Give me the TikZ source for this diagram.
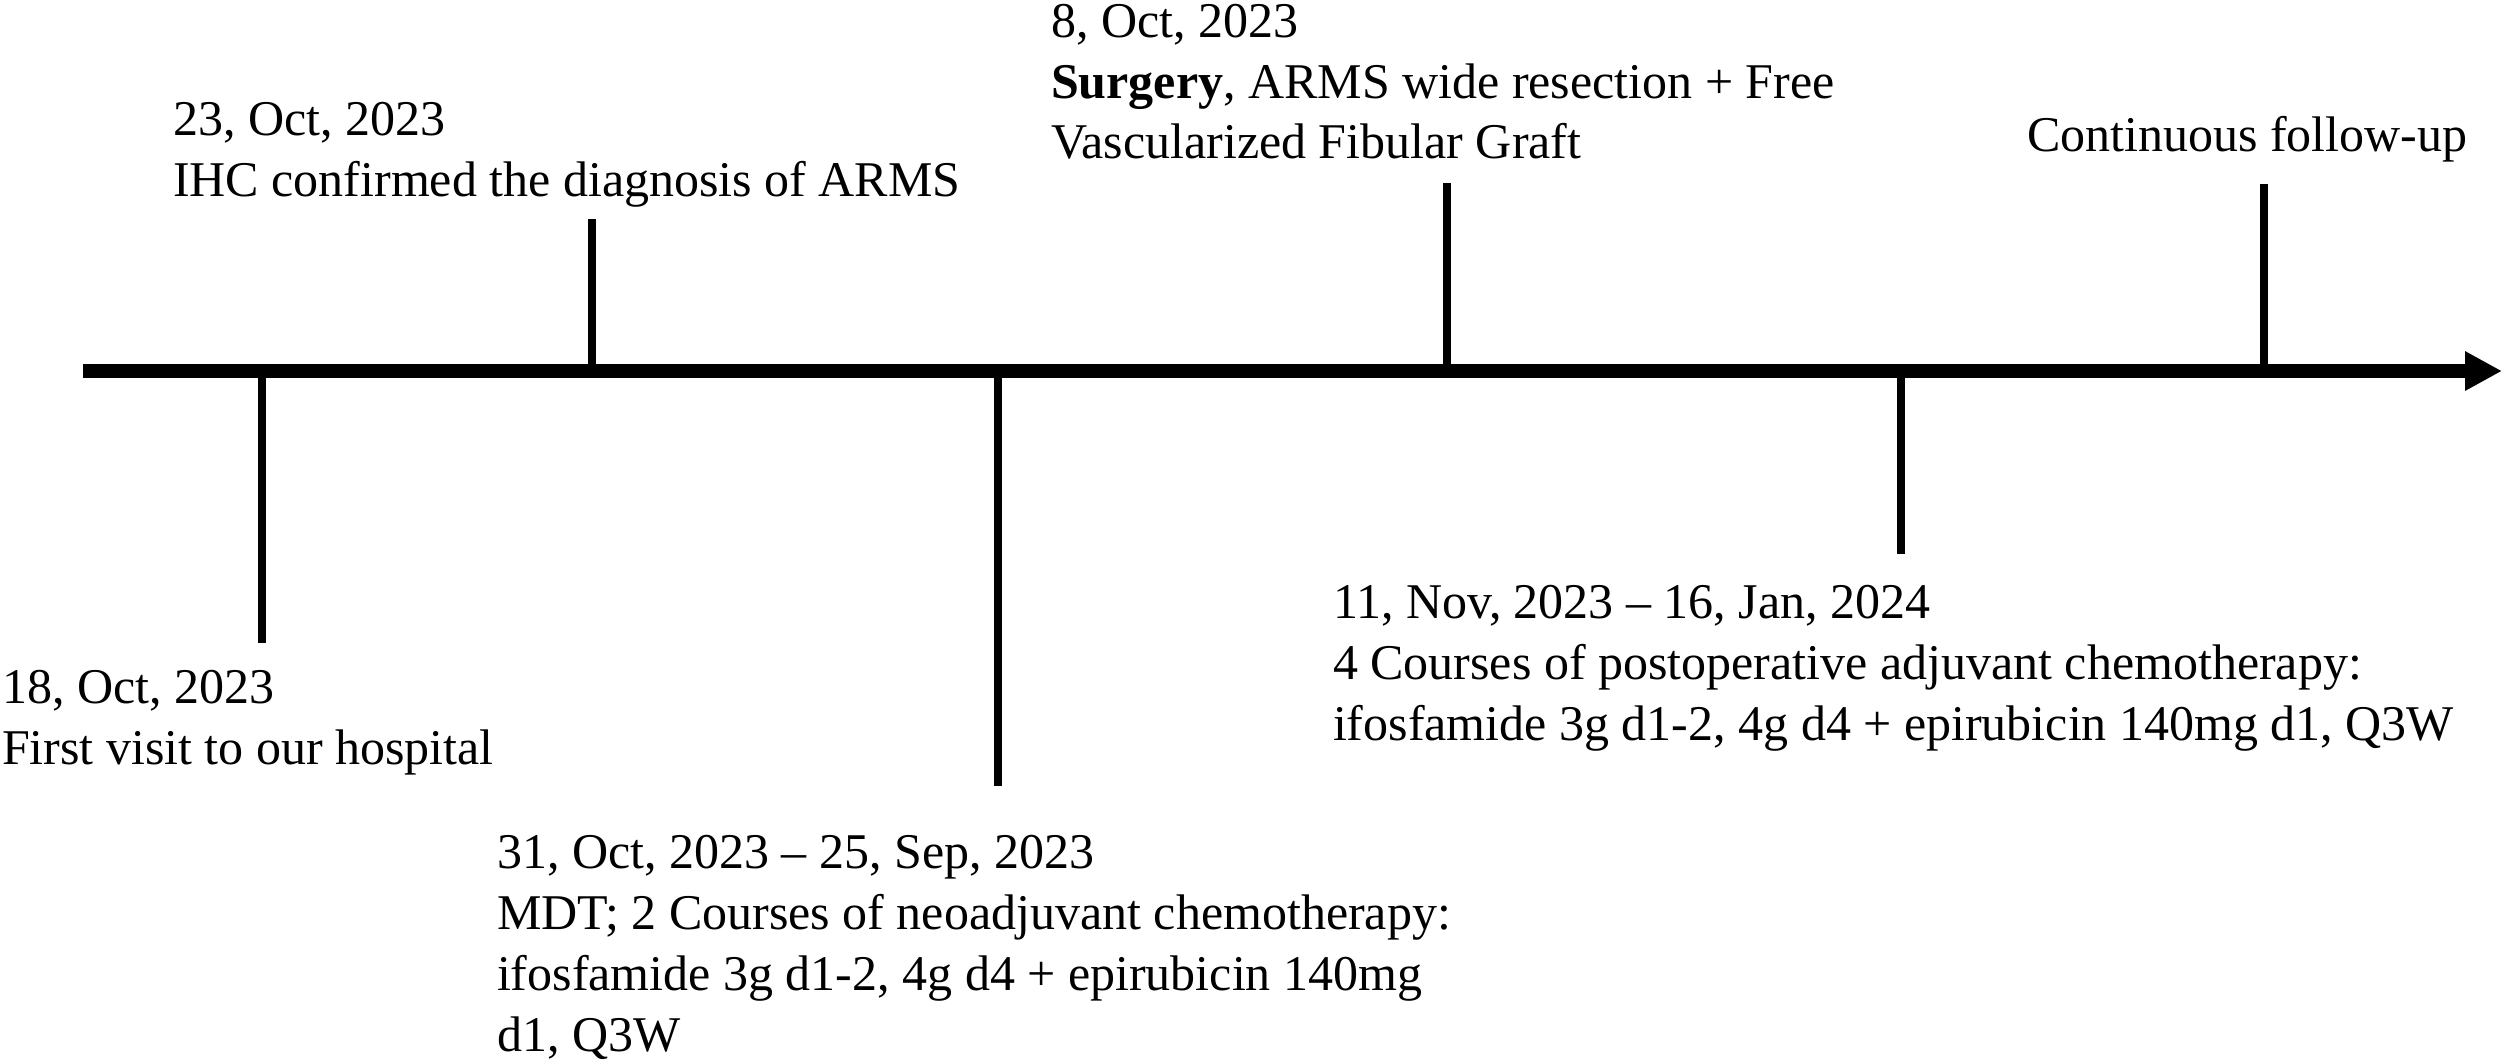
\documentclass[tikz,border=0pt]{standalone}
\usepackage{fontspec}
\setmainfont{Liberation Serif}
\usetikzlibrary{arrows.meta}
\tikzset{
  lbl/.style={anchor=base west, inner sep=0pt, outer sep=0pt, font=\fontsize{50}{61}\selectfont},
  tick/.style={line width=8pt, line cap=butt},
  axisline/.style={line width=13.5pt, -{Triangle[length=37pt,width=37pt]}}
}
\newcommand{\lines}[1]{\begin{tabular}[t]{@{}l@{}}#1\end{tabular}}
\begin{document}
\begin{tikzpicture}[x=1pt,y=-1pt]
\useasboundingbox (0,0) rectangle (2503,1060);
% axis
\coordinate (axs) at (83,371);
\coordinate (axe) at (2502,371);
\draw[axisline] (axs) -- (axe);
% tick anchors on axis
\coordinate (a1) at (262,371);   \coordinate (e1) at (262,643);
\coordinate (a2) at (592,371);   \coordinate (e2) at (592,219);
\coordinate (a3) at (998,371);   \coordinate (e3) at (998,786);
\coordinate (a4) at (1446.5,371);\coordinate (e4) at (1446.5,183);
\coordinate (a5) at (1901,371);  \coordinate (e5) at (1901,554);
\coordinate (a6) at (2264,371);  \coordinate (e6) at (2264,184);
\foreach \i in {1,...,6} \draw[tick] (a\i) -- (e\i);
% labels
\node[lbl] (t1) at (2,703) {\lines{18, Oct, 2023\\First visit to our hospital}};
\node[lbl] (t2) at (173,135) {\lines{23, Oct, 2023\\IHC confirmed the diagnosis of ARMS}};
\node[lbl] (t3) at (497,868) {\lines{31, Oct, 2023 -- 25, Sep, 2023\\MDT; 2 Courses of neoadjuvant chemotherapy:\\ifosfamide 3g d1-2, 4g d4 + epirubicin 140mg\\d1, Q3W}};
\node[lbl] (t4) at (1051,37) {\lines{8, Oct, 2023\\\textbf{Surgery}, ARMS wide resection + Free\\Vascularized Fibular Graft}};
\node[lbl] (t5) at (1333,618) {\lines{11, Nov, 2023 -- 16, Jan, 2024\\4 Courses of postoperative adjuvant chemotherapy:\\ifosfamide 3g d1-2, 4g d4 + epirubicin 140mg d1, Q3W}};
\node[lbl] (t6) at (2027,151) {Continuous follow-up};
\end{tikzpicture}
\end{document}
